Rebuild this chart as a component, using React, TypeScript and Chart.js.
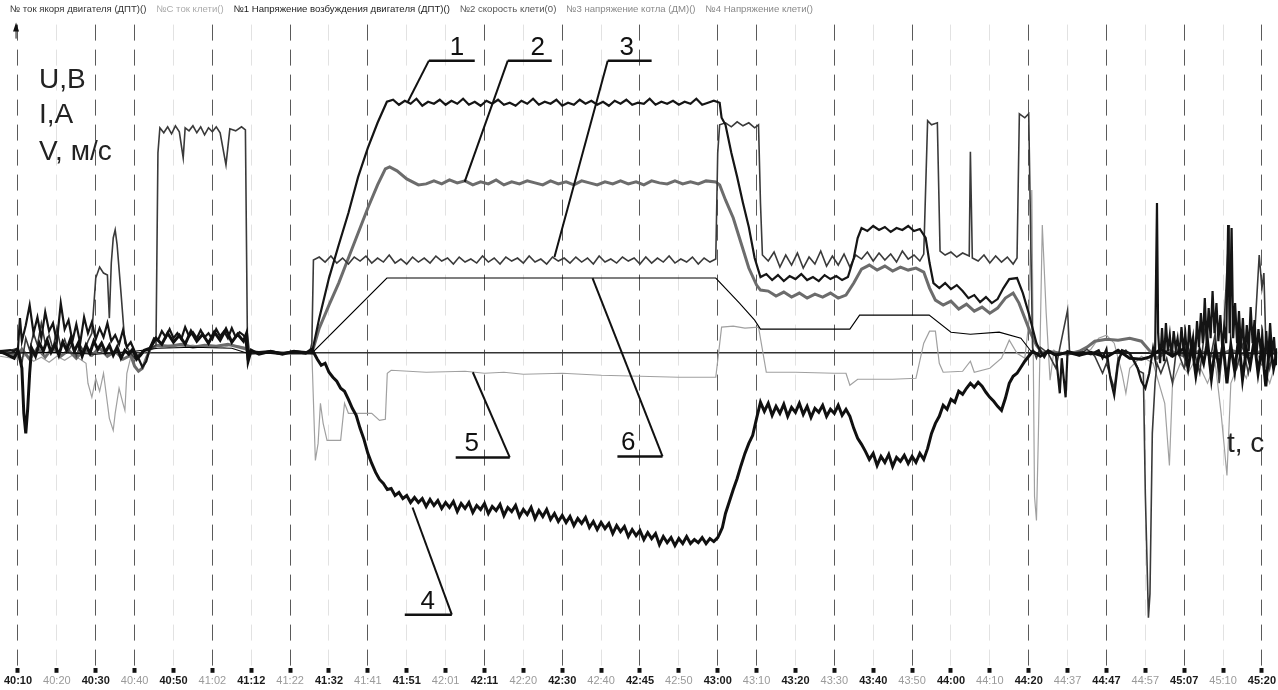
import { useEffect, useRef } from "react";
import { Chart, registerables } from "chart.js";

Chart.register(...registerables);

const tickLabels = [
  "40:10", "40:20", "40:30", "40:40", "40:50", "41:02", "41:12", "41:22", "41:32", "41:41", "41:51",
  "42:01", "42:11", "42:20", "42:30", "42:40", "42:45", "42:50", "43:00", "43:10", "43:20", "43:30",
  "43:40", "43:50", "44:00", "44:10", "44:20", "44:37", "44:47", "44:57", "45:07", "45:10", "45:20",
];
const darkGridIdx = [0, 2, 3, 5, 7, 9, 12, 14, 16, 18, 19, 21, 23, 26, 28, 30, 32];

const legendLabels = [
  "№ ток якоря двигателя (ДПТ)()",
  "№С ток клети()",
  "№1 Напряжение возбуждения двигателя (ДПТ)()",
  "№2 скорость клети(0)",
  "№3 напряжение котла (ДМ)()",
  "№4 Напряжение клети()",
];

// curve 1 – armature current (black)
const curve1: [number, number][] = [
  [-0.46, 0.2], [-0.2, 0.3], [-0.1, 0.2], [0, 0.5], [0.05, 3.5], [0.1, 1.2], [0.2, 2.8], [0.3, 4.8], [0.4, 2.0],
  [0.5, 3.6], [0.6, 1.5], [0.7, 4.1], [0.8, 2.2], [0.9, 3.0], [1.0, 1.1], [1.1, 5.0], [1.2, 2.4], [1.3, 3.3],
  [1.4, 1.2], [1.5, 2.9], [1.6, 1.0], [1.7, 3.6], [1.8, 2.0], [1.9, 3.1], [2.0, 1.4], [2.1, 2.5], [2.2, 1.6],
  [2.3, 3.0], [2.4, 1.2], [2.5, 1.8], [2.6, 0.9], [2.7, 2.3], [2.8, 0.6], [2.9, 1.1], [3.0, 0.2], [3.1, -0.5],
  [3.2, -1.4], [3.3, -0.8], [3.4, 0.6], [3.5, 1.5], [3.6, 1.3], [3.7, 2.2], [3.8, 1.6], [3.9, 2.4], [4.0, 1.5],
  [4.1, 2.0], [4.2, 1.4], [4.3, 2.6], [4.4, 1.7], [4.5, 2.1], [4.6, 1.5], [4.7, 2.3], [4.8, 1.6], [4.9, 2.0],
  [5.0, 1.4], [5.1, 2.4], [5.2, 1.7], [5.3, 2.2], [5.4, 1.5], [5.5, 2.5], [5.6, 1.6], [5.7, 2.1], [5.8, 1.8],
  [5.85, 1.5], [5.9, -0.3], [5.95, 0.2], [6.2, 0.1], [6.5, 0.2], [6.8, 0.0], [7.1, 0.2], [7.4, 0.1], [7.56, 0.0],
  [7.75, 3.5], [8.0, 7.5], [8.25, 10.8], [8.5, 14.0], [8.75, 17.6], [9.0, 20.5], [9.25, 23.0], [9.49, 25.1],
  [9.65, 25.3], [9.8, 24.8], [9.95, 25.2], [10.1, 24.9], [10.25, 25.4], [10.4, 24.7], [10.55, 25.1], [10.7, 24.9],
  [10.85, 25.3], [11.0, 24.8], [11.15, 25.2], [11.3, 24.9], [11.45, 25.4], [11.6, 24.8], [11.75, 25.1], [11.9, 24.7],
  [12.05, 25.2], [12.2, 24.9], [12.35, 25.3], [12.5, 24.8], [12.65, 25.0], [12.8, 24.7], [12.95, 25.2], [13.1, 24.9],
  [13.25, 25.4], [13.4, 24.8], [13.55, 25.1], [13.7, 24.9], [13.85, 25.3], [14.0, 24.7], [14.15, 25.0], [14.3, 24.8],
  [14.45, 25.3], [14.6, 24.9], [14.75, 25.2], [14.9, 24.8], [15.05, 25.1], [15.2, 24.7], [15.35, 25.2], [15.5, 24.9],
  [15.65, 25.3], [15.8, 24.8], [15.95, 25.0], [16.1, 24.9], [16.25, 25.4], [16.4, 24.8], [16.55, 25.1], [16.7, 24.9],
  [16.85, 25.2], [17.0, 24.8], [17.15, 25.1], [17.3, 24.9], [17.45, 25.4], [17.6, 24.8], [17.75, 25.0], [17.9, 25.2],
  [18.05, 25.0], [18.1, 23.5], [18.2, 22.8], [18.35, 20.0], [18.5, 17.6], [18.65, 15.0], [18.8, 12.6], [18.95, 9.5],
  [19.1, 7.6], [19.25, 7.9], [19.4, 7.3], [19.55, 7.8], [19.7, 7.2], [19.85, 7.7], [20.0, 7.4], [20.15, 7.9],
  [20.3, 7.3], [20.45, 7.6], [20.6, 7.2], [20.75, 7.8], [20.9, 7.4], [21.05, 7.7], [21.2, 7.3], [21.35, 7.6],
  [21.5, 9.5], [21.6, 11.5], [21.7, 12.5], [21.85, 12.2], [22.0, 12.7], [22.15, 12.3], [22.3, 12.6], [22.45, 12.1],
  [22.6, 12.5], [22.75, 12.3], [22.9, 12.7], [23.05, 12.2], [23.2, 12.4], [23.35, 11.5], [23.45, 9.0], [23.55, 7.0],
  [23.7, 6.5], [23.85, 7.0], [24.0, 6.4], [24.15, 6.8], [24.3, 6.2], [24.45, 5.5], [24.6, 5.8], [24.75, 5.1],
  [24.9, 5.6], [25.05, 5.0], [25.2, 5.4], [25.35, 6.5], [25.5, 7.4], [25.7, 7.5], [25.85, 6.0], [26.0, 4.0],
  [26.1, 2.5], [26.2, 1.0], [26.3, 0.2], [26.4, -0.4], [26.5, 0.3], [26.7, -0.2], [26.8, -4.0], [26.85, -0.5],
  [26.95, -4.4], [27.0, 0.2], [27.2, 0.0], [27.4, 0.1], [27.6, -0.1], [27.8, 0.3], [27.9, -0.5], [28.0, 0.4],
  [28.1, -2.5], [28.2, -4.2], [28.3, -1.0], [28.4, 0.3], [28.6, 0.0], [28.8, -1.5], [28.9, -2.8], [29.0, -3.5],
  [29.1, -2.0], [29.2, 0.5], [29.25, -0.5], [29.3, 15.0], [29.33, 2.0], [29.38, -1.0], [29.43, 2.5], [29.48, -0.8],
  [29.53, 3.0], [29.58, 0.2], [29.63, 1.8], [29.68, -0.4], [29.73, 2.2], [29.78, 0.5], [29.83, 1.5], [29.88, -0.3],
  [29.93, 2.6], [29.98, 0.4], [30.03, 1.9], [30.08, -0.6], [30.13, 2.8], [30.18, 0.3], [30.23, 1.6], [30.28, -0.5],
  [30.33, 3.2], [30.38, 0.6], [30.43, 4.0], [30.48, 1.0], [30.53, 5.5], [30.58, 0.8], [30.63, 4.5], [30.68, 1.5],
  [30.73, 6.2], [30.78, 2.0], [30.83, 5.0], [30.88, 1.2], [30.93, 3.8], [30.98, 0.5], [31.03, 2.5], [31.08, 1.0],
  [31.13, 12.8], [31.17, 2.0], [31.22, 12.5], [31.26, 1.5], [31.31, 5.0], [31.36, 1.0], [31.41, 4.2], [31.46, 0.5],
  [31.51, 3.5], [31.56, -0.5], [31.61, 2.8], [31.66, 0.2], [31.71, 4.6], [31.76, 1.0], [31.81, 3.3], [31.86, -0.2],
  [31.91, 2.4], [31.96, 0.5], [32.01, 1.8], [32.06, -1.5], [32.11, 2.2], [32.16, -0.8], [32.21, 3.0], [32.26, 0.0],
  [32.31, 1.6], [32.36, -1.2], [32.39, 0.5],
];

// curve 2 – field voltage (grey, thick)
const curve2: [number, number][] = [
  [-0.46, 0.1], [0.0, -0.3], [0.1, 0.4], [0.3, -0.6], [0.5, 0.5], [0.7, -0.4], [0.9, 0.6], [1.1, -0.3], [1.3, 0.3],
  [1.5, -0.5], [1.7, 0.4], [1.9, -0.2], [2.1, 0.5], [2.3, -0.3], [2.5, 0.2], [2.7, -0.6], [2.9, -0.2], [3.0, -1.3],
  [3.1, -1.8], [3.2, -1.5], [3.3, -0.5], [3.4, 0.4], [3.6, 0.8], [3.9, 0.7], [4.2, 0.9], [4.5, 0.6], [4.8, 0.8],
  [5.1, 0.7], [5.4, 0.9], [5.7, 0.6], [5.9, 0.4], [6.0, 0.0], [6.5, 0.1], [7.0, 0.0], [7.56, 0.0],
  [7.75, 2.5], [8.0, 4.8], [8.25, 7.0], [8.5, 9.5], [8.75, 12.0], [9.0, 14.5], [9.25, 16.8], [9.45, 18.4],
  [9.56, 18.6], [9.75, 18.2], [10.0, 17.4], [10.3, 16.8], [10.5, 16.9], [10.7, 17.2], [10.9, 16.9], [11.1, 17.3],
  [11.3, 17.0], [11.5, 17.2], [11.7, 16.8], [11.9, 17.1], [12.1, 16.9], [12.3, 17.3], [12.5, 16.8], [12.7, 17.1],
  [12.9, 16.9], [13.1, 17.2], [13.3, 17.0], [13.5, 16.8], [13.7, 17.2], [13.9, 16.9], [14.1, 17.1], [14.3, 16.8],
  [14.5, 17.2], [14.7, 17.0], [14.9, 16.8], [15.1, 17.1], [15.3, 16.9], [15.5, 17.2], [15.7, 16.9], [15.9, 17.1],
  [16.1, 16.8], [16.3, 17.2], [16.5, 17.0], [16.7, 16.9], [16.9, 17.2], [17.1, 16.9], [17.3, 17.1], [17.5, 16.9],
  [17.7, 17.2], [17.95, 17.1], [18.05, 16.8], [18.2, 15.3], [18.4, 13.5], [18.6, 11.0], [18.8, 8.5], [19.0, 6.8],
  [19.1, 6.3], [19.3, 6.2], [19.5, 5.7], [19.7, 6.1], [19.9, 5.6], [20.1, 6.0], [20.3, 5.5], [20.5, 5.9],
  [20.7, 5.6], [20.9, 6.0], [21.1, 5.5], [21.3, 5.8], [21.5, 7.0], [21.7, 8.4], [21.9, 8.8], [22.1, 8.3],
  [22.3, 8.7], [22.5, 8.2], [22.7, 8.6], [22.9, 8.3], [23.1, 8.5], [23.3, 8.1], [23.45, 6.5], [23.6, 5.3],
  [23.8, 4.8], [24.0, 5.2], [24.2, 4.4], [24.4, 4.9], [24.6, 4.2], [24.8, 4.6], [25.0, 4.0], [25.2, 4.5],
  [25.4, 5.5], [25.6, 6.0], [25.75, 5.0], [25.9, 3.5], [26.05, 2.0], [26.2, 0.8], [26.35, 0.0], [26.5, 0.2],
  [27.0, -0.1], [27.3, 0.2], [27.5, 0.6], [27.7, 1.2], [28.0, 1.4], [28.3, 1.3], [28.6, 1.5], [28.9, 1.2],
  [29.1, 0.3], [29.3, -0.5], [29.6, 0.3], [30.0, -0.3], [30.4, 0.2], [30.8, -0.4], [31.2, 0.3], [31.6, -0.2],
  [32.0, 0.2], [32.39, -0.1],
];

// curve 3 – stand voltage (dark grey, thin)
const curve3: [number, number][] = [
  [-0.46, 0.0], [0.0, 0.5], [0.1, -1.0], [0.2, 1.5], [0.3, 0.3], [0.4, 2.0], [0.5, 0.8], [0.6, 3.0], [0.7, 1.0],
  [0.8, 1.8], [0.9, 0.4], [1.0, 2.5], [1.1, 0.6], [1.2, 1.4], [1.3, 0.2], [1.4, 1.0], [1.5, -0.3], [1.6, 0.8],
  [1.7, 0.1], [1.8, 1.2], [1.9, 2.0], [2.0, 7.5], [2.1, 8.6], [2.2, 8.0], [2.3, 7.8], [2.35, 3.5], [2.4, 9.0],
  [2.45, 11.5], [2.5, 12.3], [2.55, 10.8], [2.65, 6.0], [2.75, 1.0], [2.85, 0.3], [3.0, -0.5], [3.2, 0.2],
  [3.4, 0.4], [3.55, 0.8], [3.6, 20.0], [3.65, 22.5], [3.75, 22.0], [3.85, 22.6], [3.95, 21.9], [4.05, 22.7],
  [4.15, 22.1], [4.25, 19.5], [4.3, 22.5], [4.4, 22.2], [4.5, 22.7], [4.6, 22.0], [4.7, 22.6], [4.8, 21.8],
  [4.9, 22.5], [5.0, 22.1], [5.1, 22.6], [5.2, 22.0], [5.35, 18.8], [5.45, 22.4], [5.6, 22.2], [5.75, 22.6],
  [5.85, 22.3], [5.9, 2.0], [5.95, 0.2], [6.3, 0.1], [6.7, -0.1], [7.2, 0.1], [7.5, 0.0], [7.56, 1.0], [7.6, 9.3],
  [7.75, 9.6], [7.9, 9.1], [8.05, 9.7], [8.2, 9.0], [8.35, 9.5], [8.5, 8.9], [8.65, 9.6], [8.8, 9.2], [8.95, 9.7],
  [9.1, 9.0], [9.25, 9.5], [9.4, 9.1], [9.55, 9.8], [9.7, 9.0], [9.85, 9.4], [10.0, 8.9], [10.15, 9.6], [10.3, 9.1],
  [10.45, 9.5], [10.6, 9.0], [10.75, 9.7], [10.9, 9.2], [11.05, 9.5], [11.2, 8.9], [11.35, 9.6], [11.5, 9.1],
  [11.65, 9.4], [11.8, 9.0], [11.95, 9.7], [12.1, 9.1], [12.25, 9.5], [12.4, 8.9], [12.55, 9.6], [12.7, 9.2],
  [12.85, 9.5], [13.0, 9.0], [13.15, 9.7], [13.3, 9.1], [13.45, 9.4], [13.6, 8.9], [13.75, 9.6], [13.9, 9.2],
  [14.05, 9.5], [14.2, 9.0], [14.35, 9.6], [14.5, 9.1], [14.65, 9.5], [14.8, 8.9], [14.95, 9.7], [15.1, 9.1],
  [15.25, 9.4], [15.4, 9.0], [15.55, 9.6], [15.7, 9.2], [15.85, 9.5], [16.0, 8.9], [16.15, 9.6], [16.3, 9.0],
  [16.45, 9.5], [16.6, 9.1], [16.75, 9.7], [16.9, 9.0], [17.05, 9.4], [17.2, 9.1], [17.35, 9.6], [17.5, 8.9],
  [17.65, 9.5], [17.8, 9.1], [17.95, 9.4], [18.0, 20.0], [18.05, 22.8], [18.2, 23.0], [18.35, 22.6], [18.5, 23.1],
  [18.65, 22.7], [18.8, 23.0], [18.95, 22.5], [19.05, 22.8], [19.1, 15.0], [19.15, 9.8], [19.3, 9.2], [19.45, 10.1],
  [19.6, 8.6], [19.75, 9.8], [19.9, 8.8], [20.05, 10.0], [20.2, 8.5], [20.35, 9.6], [20.5, 8.9], [20.65, 10.2],
  [20.8, 8.7], [20.95, 9.7], [21.1, 8.8], [21.25, 9.9], [21.4, 8.6], [21.55, 9.8], [21.7, 9.4], [21.85, 10.1],
  [22.0, 9.2], [22.15, 10.0], [22.3, 9.3], [22.45, 9.9], [22.6, 9.1], [22.75, 10.2], [22.9, 9.4], [23.05, 9.8],
  [23.2, 9.2], [23.3, 9.9], [23.4, 23.2], [23.5, 22.8], [23.65, 23.0], [23.72, 10.2], [23.85, 9.8], [24.0, 10.1],
  [24.15, 9.6], [24.3, 10.0], [24.47, 9.7], [24.5, 20.1], [24.55, 9.5], [24.7, 9.2], [24.85, 9.8], [25.0, 9.0],
  [25.15, 9.7], [25.3, 9.1], [25.45, 9.6], [25.6, 8.9], [25.7, 9.5], [25.76, 23.9], [25.9, 23.5], [26.0, 23.9],
  [26.05, 12.0], [26.1, 0.5], [26.2, -0.5], [26.3, 0.6], [26.5, 0.0], [26.7, -1.5], [26.8, 0.5], [27.0, 4.3],
  [27.05, 0.2], [27.3, -0.2], [27.5, 0.4], [27.7, -0.3], [27.9, -2.0], [28.0, -1.0], [28.2, -3.5], [28.3, -0.5],
  [28.5, 0.3], [28.7, -0.6], [28.85, -1.8], [28.95, -2.0], [29.0, -14.0], [29.08, -26.4], [29.12, -24.0],
  [29.18, -8.0], [29.25, -3.0], [29.3, -1.0], [29.4, -2.0], [29.55, -0.5], [29.7, -3.0], [29.8, 0.5], [30.0, -1.5],
  [30.2, 1.0], [30.4, -2.0], [30.55, 3.0], [30.65, -1.0], [30.8, 2.0], [30.9, -3.0], [31.0, 1.0], [31.16, 12.8],
  [31.2, 0.5], [31.35, -1.5], [31.5, 0.8], [31.65, -2.0], [31.8, 1.0], [31.93, 9.8], [32.0, 6.5], [32.05, 8.0],
  [32.1, 1.0], [32.2, -1.5], [32.3, 0.5], [32.39, -0.5],
];

// curve 4 – motor current (black, thick, negative)
const curve4: [number, number][] = [
  [-0.46, 0.2], [-0.1, -0.5], [0.0, 0.3], [0.1, -1.5], [0.15, -6.0], [0.2, -8.0], [0.25, -5.5], [0.3, -2.0],
  [0.35, 0.5], [0.45, -0.3], [0.55, 1.0], [0.65, 0.2], [0.75, 1.3], [0.85, 0.1], [0.95, 0.9], [1.05, -0.2],
  [1.15, 1.1], [1.25, 0.3], [1.35, 1.4], [1.45, 0.2], [1.55, 1.0], [1.65, -0.3], [1.75, 0.8], [1.85, 0.0],
  [1.95, 1.2], [2.05, 0.4], [2.15, 1.0], [2.25, 0.1], [2.35, 0.8], [2.45, -0.2], [2.55, 0.6], [2.65, -0.5],
  [2.75, 0.3], [2.85, -0.1], [2.95, 0.4], [3.05, -0.6], [3.15, -0.2], [3.25, 0.3], [3.4, 0.5], [3.55, 1.5],
  [3.7, 0.9], [3.85, 2.0], [4.0, 1.1], [4.15, 1.8], [4.3, 0.9], [4.45, 2.2], [4.6, 1.2], [4.75, 1.9], [4.9, 1.0],
  [5.05, 2.1], [5.2, 1.3], [5.35, 2.4], [5.5, 1.1], [5.65, 1.9], [5.8, 1.2], [5.88, 2.0], [5.92, -0.8], [6.0, 0.3],
  [6.2, -0.1], [6.5, 0.2], [6.8, -0.1], [7.1, 0.2], [7.4, 0.0], [7.56, 0.4], [7.7, -0.6], [7.8, -1.2], [7.9, -1.0],
  [8.0, -1.9], [8.1, -2.4], [8.2, -2.8], [8.3, -3.5], [8.4, -3.8], [8.5, -4.6], [8.6, -5.5], [8.7, -6.2],
  [8.8, -7.5], [8.9, -8.6], [9.0, -10.0], [9.1, -11.0], [9.2, -11.9], [9.3, -12.6], [9.4, -13.0], [9.5, -13.6],
  [9.6, -13.5], [9.7, -14.2], [9.8, -13.9], [9.9, -14.5], [10.0, -14.2], [10.1, -14.9], [10.2, -14.4], [10.3, -14.9],
  [10.4, -14.5], [10.5, -15.3], [10.6, -14.6], [10.7, -15.2], [10.8, -14.7], [10.9, -15.5], [11.0, -14.9],
  [11.1, -15.4], [11.2, -14.8], [11.3, -15.8], [11.4, -15.0], [11.5, -15.5], [11.6, -14.9], [11.7, -15.9],
  [11.8, -15.2], [11.9, -15.6], [12.0, -15.0], [12.1, -16.0], [12.2, -15.3], [12.3, -15.7], [12.4, -15.1],
  [12.5, -16.2], [12.6, -15.4], [12.7, -15.8], [12.8, -15.2], [12.9, -16.3], [13.0, -15.6], [13.1, -16.1],
  [13.2, -15.4], [13.3, -16.5], [13.4, -15.7], [13.5, -16.3], [13.6, -15.6], [13.7, -16.6], [13.8, -16.0],
  [13.9, -16.8], [14.0, -16.2], [14.1, -16.9], [14.2, -16.3], [14.3, -17.2], [14.4, -16.5], [14.5, -17.0],
  [14.6, -16.4], [14.7, -17.4], [14.8, -16.8], [14.9, -17.6], [15.0, -16.9], [15.1, -17.5], [15.2, -17.0],
  [15.3, -18.0], [15.4, -17.2], [15.5, -17.8], [15.6, -17.3], [15.7, -18.3], [15.8, -17.6], [15.9, -18.2],
  [16.0, -17.7], [16.1, -18.6], [16.2, -17.9], [16.3, -18.5], [16.4, -18.0], [16.5, -19.1], [16.6, -18.3],
  [16.7, -18.9], [16.8, -18.4], [16.9, -19.2], [17.0, -18.5], [17.1, -19.0], [17.2, -18.3], [17.3, -19.0],
  [17.4, -18.6], [17.5, -18.9], [17.6, -18.4], [17.7, -19.0], [17.8, -18.5], [17.9, -18.8], [18.0, -18.4],
  [18.05, -18.0], [18.12, -17.4], [18.2, -16.0], [18.3, -14.8], [18.4, -13.6], [18.5, -12.5], [18.6, -11.2],
  [18.7, -10.0], [18.8, -9.0], [18.9, -8.2], [19.0, -6.5], [19.1, -4.9], [19.2, -5.8], [19.3, -5.0], [19.4, -6.2],
  [19.5, -5.3], [19.6, -6.0], [19.7, -5.1], [19.8, -6.3], [19.9, -5.4], [20.0, -5.9], [20.1, -5.0], [20.2, -6.1],
  [20.3, -5.3], [20.4, -6.4], [20.5, -5.5], [20.6, -5.9], [20.7, -5.2], [20.8, -6.3], [20.9, -5.6], [21.0, -6.0],
  [21.1, -5.2], [21.2, -6.2], [21.3, -5.6], [21.4, -6.3], [21.5, -7.5], [21.6, -8.5], [21.7, -9.1], [21.8, -9.8],
  [21.9, -10.6], [22.0, -10.0], [22.1, -11.2], [22.2, -10.3], [22.3, -10.9], [22.4, -10.1], [22.5, -11.3],
  [22.6, -10.4], [22.7, -10.8], [22.8, -10.2], [22.9, -11.0], [23.0, -10.3], [23.1, -10.9], [23.2, -10.0],
  [23.3, -10.6], [23.4, -9.5], [23.5, -8.0], [23.6, -7.0], [23.7, -6.3], [23.8, -5.2], [23.9, -5.6], [24.0, -4.6],
  [24.1, -4.9], [24.2, -3.8], [24.3, -4.1], [24.4, -3.5], [24.5, -3.0], [24.6, -3.4], [24.7, -2.9], [24.8, -3.3],
  [24.9, -3.9], [25.0, -4.4], [25.1, -4.8], [25.2, -5.3], [25.3, -5.7], [25.4, -4.5], [25.5, -3.0], [25.6, -2.3],
  [25.7, -2.0], [25.8, -1.4], [25.9, -0.8], [26.0, -0.3], [26.1, 0.2], [26.3, -0.3], [26.5, 0.2], [26.7, -0.2],
  [27.0, 0.1], [27.3, -0.2], [27.6, 0.1], [28.0, -0.4], [28.3, 0.3], [28.6, -0.5], [28.9, -0.6], [29.1, -0.4],
  [29.4, 0.4], [29.7, -0.3], [30.0, 0.5], [30.1, -1.5], [30.2, 0.8], [30.3, -2.2], [30.4, 0.3], [30.5, -1.0],
  [30.6, 1.2], [30.7, -2.5], [30.8, 0.6], [30.9, -1.4], [31.0, 1.0], [31.1, -3.0], [31.2, 0.8], [31.3, -1.8],
  [31.4, 1.5], [31.5, -2.6], [31.6, 0.4], [31.7, -1.2], [31.8, 1.3], [31.9, -2.0], [32.0, 0.6], [32.1, -3.3],
  [32.2, 0.9], [32.3, -1.5], [32.39, 0.2],
];

// curve 5 – stand current (light grey, thin)
const curve5: [number, number][] = [
  [-0.46, -0.3], [0.0, -0.6], [0.2, -0.2], [0.4, -0.8], [0.6, -0.4], [0.8, -0.9], [1.0, -0.3], [1.2, -0.7],
  [1.4, -0.2], [1.6, -0.6], [1.75, -1.0], [1.8, -3.0], [1.9, -4.4], [2.0, -2.5], [2.1, -3.8], [2.2, -2.0],
  [2.35, -6.5], [2.45, -7.7], [2.5, -6.0], [2.6, -3.5], [2.7, -5.0], [2.75, -5.7], [2.8, -2.0], [2.9, -0.4],
  [3.0, -0.6], [3.1, -0.2], [3.3, 0.2], [3.5, 0.7], [3.7, 0.6], [3.9, 0.8], [4.1, 0.6], [4.3, 0.7], [4.5, 0.8],
  [4.7, 0.6], [4.9, 0.8], [5.1, 0.7], [5.3, 0.6], [5.5, 0.8], [5.7, 0.7], [5.85, 0.6], [5.9, -0.2], [6.2, 0.0],
  [6.6, 0.1], [7.0, 0.0], [7.4, 0.1], [7.56, 0.0], [7.65, -10.7], [7.72, -9.0], [7.78, -5.0], [7.85, -7.0],
  [7.95, -8.7], [8.3, -8.7], [8.4, -5.0], [8.5, -6.0], [8.6, -6.0], [9.1, -6.0], [9.3, -6.7], [9.45, -6.6],
  [9.5, -2.0], [9.6, -1.7], [10.5, -1.9], [11.5, -1.8], [12.0, -2.0], [12.5, -1.9], [13.0, -2.1], [14.0, -2.0],
  [15.0, -2.2], [16.0, -2.3], [17.0, -2.4], [17.95, -2.4], [18.1, 2.6], [18.4, 2.7], [18.7, 2.5], [19.05, 2.6],
  [19.25, -1.9], [20.0, -1.9], [21.0, -2.0], [21.3, -2.0], [21.4, -3.2], [21.6, -2.6], [22.5, -2.6], [23.1, -2.5],
  [23.3, 1.0], [23.45, 2.2], [23.6, 2.2], [23.7, -1.0], [23.8, -1.9], [24.3, -1.8], [24.5, -0.8], [24.6, -1.9],
  [25.0, -1.5], [25.3, -0.5], [25.5, 1.3], [25.7, 0.0], [25.9, -0.5], [26.0, 3.0], [26.08, 16.3], [26.15, -14.3],
  [26.2, -16.7], [26.25, -8.0], [26.35, 12.8], [26.45, 4.0], [26.55, -2.7], [26.65, 0.3], [26.8, -0.2],
  [27.0, 0.2], [27.3, -0.3], [27.6, 0.4], [27.8, 1.5], [28.0, 1.8], [28.2, 1.0], [28.4, -2.0], [28.5, -4.0],
  [28.6, -1.5], [28.9, -0.3], [29.2, -1.0], [29.5, -5.0], [29.62, -11.2], [29.7, -3.0], [29.9, -1.0], [30.1, -2.0],
  [30.3, -0.5], [30.6, -3.0], [30.8, -1.0], [30.95, -6.0], [31.1, -12.2], [31.2, -3.0], [31.4, -1.0], [31.6, -2.5],
  [31.8, 0.5], [32.0, -1.0], [32.2, -3.0], [32.39, -0.5],
];

// curve 6 – stand speed (thin black)
const curve6: [number, number][] = [
  [-0.46, 0.0], [1.0, 0.1], [2.0, -0.1], [3.0, 0.2], [3.6, 0.5], [4.5, 0.6], [5.5, 0.5], [5.9, 0.0], [7.0, 0.0],
  [7.56, 0.0], [9.49, 7.5], [17.95, 7.5], [18.56, 5.0], [18.95, 3.3], [19.1, 2.4], [21.4, 2.4], [21.65, 3.8],
  [23.44, 3.8], [24.0, 2.1], [24.5, 1.9], [25.24, 2.1], [25.8, 1.5], [26.1, 0.0], [32.39, 0.0],
];

// callouts in data coordinates
const callouts = [
  { text: "1", tip: [10.03, 25.1], elbow: [10.57, 29.2], end: 11.75, textX: 11.29 },
  { text: "2", tip: [11.49, 17.1], elbow: [12.6, 29.2], end: 13.73, textX: 13.37 },
  { text: "3", tip: [13.8, 9.6], elbow: [15.17, 29.2], end: 16.3, textX: 15.66 },
  { text: "4", tip: [10.15, -15.4], elbow: [11.16, -26.1], end: 9.95, textX: 10.54 },
  { text: "5", tip: [11.7, -1.9], elbow: [12.65, -10.4], end: 11.26, textX: 11.67 },
  { text: "6", tip: [14.78, 7.5], elbow: [16.58, -10.3], end: 15.42, textX: 15.7 },
];
const axisTexts = [
  { text: "U,B", x: 0.54, y: 26.5 },
  { text: "I,A", x: 0.54, y: 23.0 },
  { text: "V, м/с", x: 0.54, y: 19.3 },
  { text: "t, c", x: 31.1, y: -9.9 },
];

const FONT = "'Liberation Sans', Arial, sans-serif";

const overlayPlugin = {
  id: "overlay",
  afterDatasetsDraw(chart: any) {
    const { ctx, scales } = chart;
    const X = (v: number) => scales.x.getPixelForValue(v);
    const Y = (v: number) => scales.y.getPixelForValue(v);
    ctx.save();
    ctx.strokeStyle = "#111";
    ctx.fillStyle = "#111";
    ctx.lineJoin = "miter";
    for (const c of callouts) {
      const ey = Y(c.elbow[1]);
      ctx.lineWidth = 2;
      ctx.beginPath();
      ctx.moveTo(X(c.tip[0]), Y(c.tip[1]));
      ctx.lineTo(X(c.elbow[0]), ey);
      ctx.stroke();
      ctx.lineWidth = 2.5;
      ctx.beginPath();
      ctx.moveTo(X(c.elbow[0]), ey);
      ctx.lineTo(X(c.end), ey);
      ctx.stroke();
      ctx.font = `26px ${FONT}`;
      ctx.textAlign = "center";
      ctx.textBaseline = "alphabetic";
      ctx.fillText(c.text, X(c.textX), ey - 6);
    }
    ctx.font = `28px ${FONT}`;
    ctx.textAlign = "left";
    ctx.fillStyle = "#222";
    for (const t of axisTexts) ctx.fillText(t.text, X(t.x), Y(t.y));
    // y-axis arrow head
    const ax = X(-0.05);
    const top = chart.chartArea.top;
    ctx.fillStyle = "#111";
    ctx.beginPath();
    ctx.moveTo(ax, top - 2);
    ctx.lineTo(ax - 3, top + 7);
    ctx.lineTo(ax + 3, top + 7);
    ctx.closePath();
    ctx.fill();
    ctx.lineWidth = 1;
    ctx.beginPath();
    ctx.moveTo(ax, top + 2);
    ctx.lineTo(ax, top + 14);
    ctx.stroke();
    ctx.restore();
  },
};

const seriesList = [
  { label: legendLabels[0], data: curve4, color: "#101010", width: 3 },
  { label: legendLabels[1], data: curve1, color: "#151515", width: 2.2 },
  { label: legendLabels[2], data: curve6, color: "#000000", width: 1.1 },
  { label: legendLabels[3], data: curve3, color: "#3a3a3a", width: 1.6 },
  { label: legendLabels[4], data: curve2, color: "#6c6c6c", width: 3 },
  { label: legendLabels[5], data: curve5, color: "#a0a0a0", width: 1.2 },
];
const legendColors = ["#333", "#aaa", "#222", "#555", "#888", "#888"];

export default function App() {
  const ref = useRef<HTMLCanvasElement>(null);
  useEffect(() => {
    if (!ref.current) return;
    Chart.defaults.font.family = FONT;
    const chart = new Chart(ref.current, {
      type: "line",
      data: {
        datasets: seriesList.map((s) => ({
          label: s.label,
          data: s.data.map(([x, y]) => ({ x, y })),
          borderColor: s.color,
          backgroundColor: s.color,
          borderWidth: s.width,
          pointRadius: 0,
          fill: false,
          tension: 0,
        })),
      },
      options: {
        animation: false,
        responsive: false,
        events: [],
        layout: { padding: { left: 0, right: 0, top: 0, bottom: 0 } },
        plugins: {
          tooltip: { enabled: false },
          legend: {
            display: true,
            position: "top",
            align: "start",
            labels: {
              boxWidth: 0,
              boxHeight: 0,
              padding: 5,
              font: { size: 9.6 },
              generateLabels: () =>
                legendLabels.map((t, i) => ({
                  text: t,
                  fontColor: legendColors[i],
                  fillStyle: "rgba(0,0,0,0)",
                  strokeStyle: "rgba(0,0,0,0)",
                  lineWidth: 0,
                  hidden: false,
                  datasetIndex: i,
                })),
            },
          },
        },
        scales: {
          x: {
            type: "linear",
            min: -0.463,
            max: 32.39,
            afterBuildTicks: (s: any) => {
              s.ticks = tickLabels.map((_, i) => ({ value: i }));
            },
            ticks: {
              autoSkip: false,
              maxRotation: 0,
              minRotation: 0,
              padding: 2,
              callback: (v: any) => tickLabels[Math.round(Number(v))] ?? "",
              color: (c: any) => (c.index % 2 === 0 ? "#1a1a1a" : "#9a9a9a"),
              font: (c: any) => ({ size: 11, weight: c.index % 2 === 0 ? "bold" : "normal" }),
            },
            grid: {
              color: (c: any) => (darkGridIdx.includes(c.index) ? "#5a5a5a" : "#e2e2e2"),
              lineWidth: 1,
              drawTicks: true,
              tickLength: 5,
              tickWidth: 4,
              tickColor: "#111",
            },
            border: { display: false, dash: [16, 9] },
          },
          y: {
            type: "linear",
            min: -31.4,
            max: 32.8,
            afterBuildTicks: (s: any) => {
              s.ticks = [{ value: 0 }];
            },
            ticks: { display: false },
            grid: { color: "#333", lineWidth: 1.5, drawTicks: false },
            border: { display: false },
          },
        },
      },
      plugins: [overlayPlugin],
    } as any);
    return () => chart.destroy();
  }, []);
  return (
    <div style={{ position: "absolute", left: 0, top: 0, width: 1278, height: 690, background: "#fff" }}>
      <canvas ref={ref} width={1278} height={690} />
    </div>
  );
}
